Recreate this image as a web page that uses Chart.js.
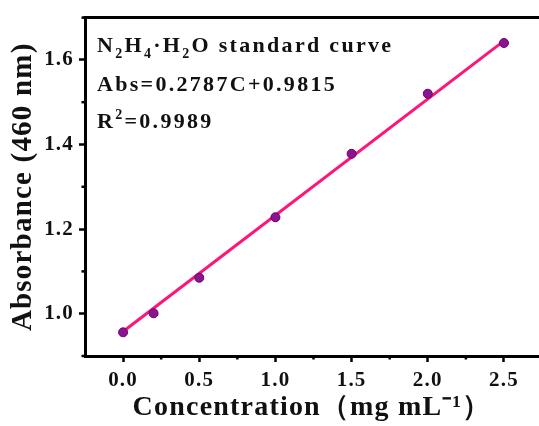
<!DOCTYPE html>
<html>
<head>
<meta charset="utf-8">
<script src="https://cdn.jsdelivr.net/npm/chart.js@4/dist/chart.umd.min.js"></script>
<style>
  html, body { margin: 0; padding: 0; background: #fff; }
  #wrap { width: 539px; height: 426px; }
</style>
</head>
<body>
<div id="wrap"><canvas id="c"></canvas></div>
<script>
// dados
const concX   = [0, 0.2, 0.5, 1.0, 1.5, 2.0, 2.5];
const absY    = [0.956, 1.001, 1.085, 1.228, 1.378, 1.520, 1.640];
const fitX    = [0, 2.5];
const fitY    = [0.958, 1.645];
const xTicks  = [0, 0.5, 1.0, 1.5, 2.0, 2.5];
const yTicks  = [1.0, 1.2, 1.4, 1.6];
const xMinor  = [0.25, 0.75, 1.25, 1.75, 2.25];
const yMinor  = [0.9, 1.1, 1.3, 1.5, 1.7];

const SERIF = '"Liberation Serif", "Times New Roman", serif';

/**
 * Espaçamento entre letras (o original é bem "aberto")
 */
const spacingPlugin = {
  id: 'spacing',
  beforeLayout(chart) { chart.ctx.letterSpacing = '1.2px'; },
  beforeDraw(chart)   { chart.ctx.letterSpacing = '1.2px'; },
};

/**
 * Borda superior, ticks menores e texto da equação
 */
const framePlugin = {
  id: 'frame',
  afterDraw(chart) {
    const { ctx, chartArea: a, scales: { x, y } } = chart;
    ctx.save();
    ctx.strokeStyle = '#000';
    ctx.lineWidth = 3;
    ctx.beginPath();
    ctx.moveTo(a.left - 1.5, a.top);
    ctx.lineTo(a.right, a.top);
    ctx.stroke();

    ctx.lineWidth = 2.5;
    xMinor.forEach(v => {
      const px = x.getPixelForValue(v);
      ctx.beginPath();
      ctx.moveTo(px, a.bottom);
      ctx.lineTo(px, a.bottom + 3.5);
      ctx.stroke();
    });
    yMinor.forEach(v => {
      const py = y.getPixelForValue(v);
      ctx.beginPath();
      ctx.moveTo(a.left, py);
      ctx.lineTo(a.left - 3.5, py);
      ctx.stroke();
    });

    // texto com subscritos
    ctx.fillStyle = '#111';
    ctx.textBaseline = 'alphabetic';
    ctx.textAlign = 'left';
    ctx.letterSpacing = '2.3px';
    const big = 'bold 22px ' + SERIF;
    const small = 'bold 14px ' + SERIF;
    const runs = (parts, x0, y0) => {
      let cx = x0;
      parts.forEach(([t, kind]) => {
        ctx.font = kind ? small : big;
        const dy = kind === 'sub' ? 6 : kind === 'sup' ? -9 : 0;
        ctx.fillText(t, cx, y0 + dy);
        cx += ctx.measureText(t).width;
      });
    };
    const tx = a.left + 12;
    runs([['N'], ['2', 'sub'], ['H'], ['4', 'sub'], ['·H'], ['2', 'sub'], ['O standard curve']], tx, 52);
    runs([['Abs=0.2787C+0.9815']], tx, 91);
    runs([['R'], ['2', 'sup'], ['=0.9989']], tx, 128);
    ctx.restore();
  },
};

new Chart(document.getElementById('c'), {
  type: 'scatter',
  data: {
    datasets: [
      {
        label: 'pontos',
        data: concX.map((v, i) => ({ x: v, y: absY[i] })),
        backgroundColor: '#8a1590',
        borderColor: '#6a006e',
        borderWidth: 1,
        pointRadius: 4.5,
        order: 1,
      },
      {
        label: 'ajuste',
        type: 'line',
        data: fitX.map((v, i) => ({ x: v, y: fitY[i] })),
        borderColor: '#ff1478',
        borderWidth: 3,
        pointRadius: 0,
        fill: false,
        order: 2,
      },
    ],
  },
  options: {
    responsive: true,
    maintainAspectRatio: false,
    animation: false,
    layout: { autoPadding: false, padding: { top: 15, right: 0, left: 0, bottom: 0 } },
    plugins: { legend: { display: false }, tooltip: { enabled: false } },
    scales: {
      x: {
        type: 'linear',
        min: -0.25,
        max: 2.73,
        afterBuildTicks: s => { s.ticks = xTicks.map(v => ({ value: v })); },
        afterFit: s => { s.height = 70; },
        ticks: {
          color: '#111',
          padding: 6,
          font: { family: SERIF, size: 21, weight: 'bold' },
          callback: v => Number(v).toFixed(1),
        },
        grid: { drawOnChartArea: false, tickLength: 6, tickWidth: 2.5, tickColor: '#000' },
        border: { display: true, color: '#000', width: 3 },
        title: {
          display: true,
          text: 'Concentration（mg mL⁻¹）',
          color: '#111',
          padding: { top: 0, bottom: 1 },
          font: { family: SERIF, size: 28, weight: 'bold' },
        },
      },
      y: {
        min: 0.9,
        max: 1.7,
        afterBuildTicks: s => { s.ticks = yTicks.map(v => ({ value: v })); },
        afterFit: s => { s.width = 85; },
        ticks: {
          color: '#111',
          padding: 5,
          font: { family: SERIF, size: 21, weight: 'bold' },
          callback: v => Number(v).toFixed(1),
        },
        grid: { drawOnChartArea: false, tickLength: 6, tickWidth: 2.5, tickColor: '#000' },
        border: { display: true, color: '#000', width: 3 },
        title: {
          display: true,
          text: 'Absorbance (460 nm)',
          color: '#111',
          padding: { top: 6, bottom: 0 },
          font: { family: SERIF, size: 29, weight: 'bold' },
        },
      },
    },
  },
  plugins: [spacingPlugin, framePlugin],
});
</script>
</body>
</html>
